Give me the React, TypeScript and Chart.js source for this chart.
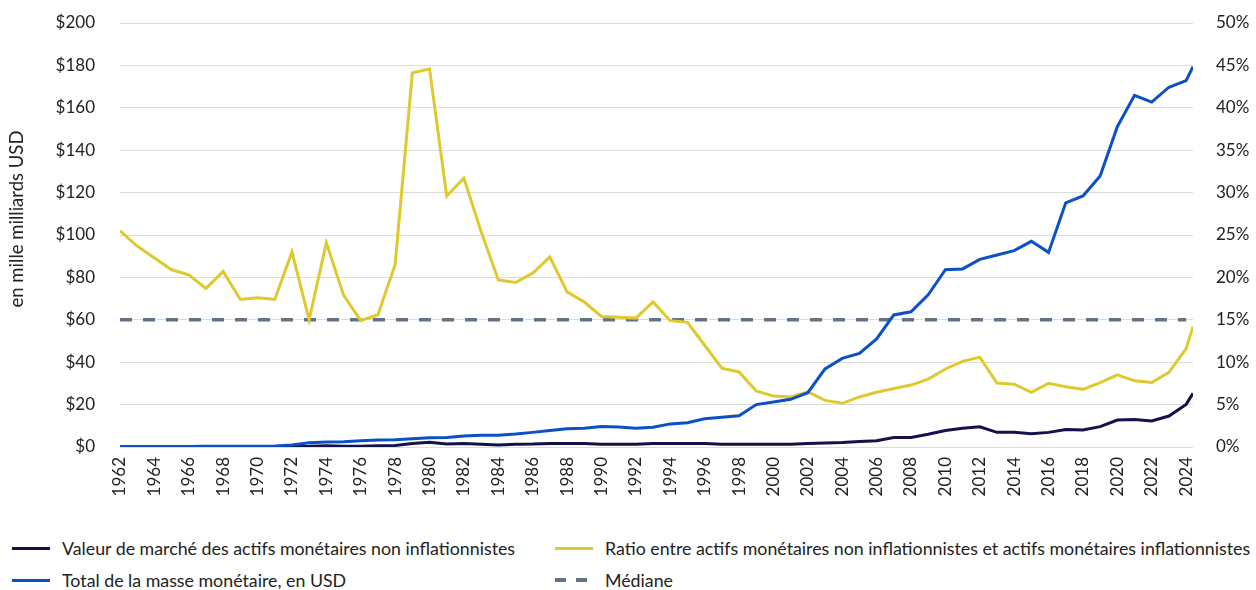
import React, { useEffect, useRef } from 'react';
import { Chart, registerables } from 'chart.js';

Chart.register(...registerables);

// ---- Data ----
const years = [
  1962, 1963, 1964, 1965, 1966, 1967, 1968, 1969, 1970, 1971,
  1972, 1973, 1974, 1975, 1976, 1977, 1978, 1979, 1980, 1981,
  1982, 1983, 1984, 1985, 1986, 1987, 1988, 1989, 1990, 1991,
  1992, 1993, 1994, 1995, 1996, 1997, 1998, 1999, 2000, 2001,
  2002, 2003, 2004, 2005, 2006, 2007, 2008, 2009, 2010, 2011,
  2012, 2013, 2014, 2015, 2016, 2017, 2018, 2019, 2020, 2021,
  2022, 2023, 2024, 2024.4,
];

// Valeur de marché des actifs monétaires non inflationnistes (mille milliards USD)
const marketValue = [
  0.1, 0.1, 0.1, 0.1, 0.1, 0.1, 0.1, 0.1, 0.1, 0.1,
  0.2, 0.3, 0.6, 0.4, 0.4, 0.6, 0.7, 1.7, 2.2, 1.4,
  1.7, 1.3, 0.9, 1.3, 1.4, 1.7, 1.7, 1.7, 1.3, 1.3,
  1.3, 1.6, 1.7, 1.7, 1.6, 1.3, 1.3, 1.3, 1.3, 1.3,
  1.6, 1.9, 2.1, 2.6, 3.0, 4.5, 4.5, 6.0, 7.8, 8.8,
  9.5, 6.9, 6.9, 6.2, 6.9, 8.2, 8.0, 9.6, 12.7, 13.0,
  12.3, 14.6, 20.1, 25.3,
];

// Ratio entre actifs monétaires non inflationnistes et inflationnistes (%)
const ratio = [
  25.5, 23.7, 22.3, 20.9, 20.3, 18.7, 20.7, 17.4, 17.6, 17.4,
  23.0, 15.0, 24.1, 17.9, 14.9, 15.6, 21.5, 44.1, 44.6, 29.6,
  31.7, 25.4, 19.7, 19.4, 20.5, 22.4, 18.3, 17.1, 15.4, 15.3,
  15.2, 17.1, 14.9, 14.7, 12.0, 9.3, 8.85, 6.6, 6.0, 5.9,
  6.5, 5.5, 5.15, 5.9, 6.45, 6.9, 7.3, 8.0, 9.2, 10.1,
  10.6, 7.55, 7.4, 6.45, 7.5, 7.1, 6.8, 7.6, 8.5, 7.8,
  7.6, 8.8, 11.6, 14.2,
];

// Total de la masse monétaire, en USD (mille milliards)
const moneySupply = [
  0.2, 0.2, 0.2, 0.2, 0.2, 0.4, 0.4, 0.4, 0.4, 0.5,
  0.9, 2.0, 2.4, 2.5, 3.0, 3.3, 3.4, 3.9, 4.4, 4.5,
  5.2, 5.5, 5.5, 6.1, 6.9, 7.8, 8.6, 8.9, 9.7, 9.4,
  8.9, 9.3, 10.9, 11.4, 13.3, 14.0, 14.7, 20.0, 21.2, 22.5,
  25.6, 36.8, 41.8, 44.1, 51.0, 62.3, 63.8, 71.8, 83.6, 84.0,
  88.5, 90.6, 92.6, 97.0, 91.8, 115.2, 118.4, 127.8, 151.1, 165.9,
  162.7, 169.7, 172.8, 179.4,
];

const medianYears = [1962, 2024];
const medianValues = [15, 15];

const xTickYears = [
  1962, 1964, 1966, 1968, 1970, 1972, 1974, 1976, 1978, 1980,
  1982, 1984, 1986, 1988, 1990, 1992, 1994, 1996, 1998, 2000,
  2002, 2004, 2006, 2008, 2010, 2012, 2014, 2016, 2018, 2020,
  2022, 2024,
];

const labels = {
  market: 'Valeur de marché des actifs monétaires non inflationnistes',
  ratio: 'Ratio entre actifs monétaires non inflationnistes et actifs monétaires inflationnistes',
  supply: 'Total de la masse monétaire, en USD',
  median: 'Médiane',
  yTitle: 'en mille milliards USD',
};

// ---- Styles ----
const NAVY = '#13124b';
const BLUE = '#0b50c5';
const YELLOW = '#dfc92e';
const SLATE = '#5f7489';
const TEXT = '#222222';
const FONT = 'Lato';

const pts = (xs: number[], ys: number[]) => xs.map((x, i) => ({ x, y: ys[i] }));

const yTitlePlugin = {
  id: 'yTitle',
  afterDraw(chart: any) {
    const c = chart.ctx;
    c.save();
    c.translate(17, 219);
    c.rotate(-Math.PI / 2);
    c.font = `18.5px ${FONT}`;
    c.fillStyle = TEXT;
    c.textAlign = 'center';
    c.textBaseline = 'middle';
    c.fillText(labels.yTitle, 0, 0);
    c.restore();
  },
};

function LegendItem(props: { left: number; top: number; color: string; dashed?: boolean; text: string }) {
  const { left, top, color, dashed, text } = props;
  return (
    <div style={{ position: 'absolute', left, top: top - 13, height: 26, display: 'flex', alignItems: 'center', whiteSpace: 'nowrap' }}>
      {dashed ? (
        <div style={{ width: 38, height: 4, position: 'relative', marginRight: 12 }}>
          <div style={{ position: 'absolute', left: 0, top: 0, width: 11, height: 4, background: color }} />
          <div style={{ position: 'absolute', left: 21, top: 0, width: 11, height: 4, background: color }} />
        </div>
      ) : (
        <div style={{ width: 38, height: 3, background: color, marginRight: 12 }} />
      )}
      <span style={{ fontFamily: FONT, fontSize: 17.8, color: TEXT }}>{text}</span>
    </div>
  );
}

export default function App() {
  const ref = useRef<HTMLCanvasElement>(null);

  useEffect(() => {
    document.body.style.margin = '0';
    const canvas = ref.current;
    if (!canvas) return;
    const tickFont = { family: FONT, size: 17 };
    const chart = new Chart(canvas, {
      type: 'line',
      data: {
        datasets: [
          {
            label: labels.supply,
            data: pts(years, moneySupply),
            yAxisID: 'y',
            borderColor: BLUE,
            borderWidth: 3,
            pointRadius: 0,
            tension: 0,
          },
          {
            label: labels.market,
            data: pts(years, marketValue),
            yAxisID: 'y',
            borderColor: NAVY,
            borderWidth: 3,
            pointRadius: 0,
            tension: 0,
          },
          {
            label: labels.ratio,
            data: pts(years, ratio),
            yAxisID: 'y1',
            borderColor: YELLOW,
            borderWidth: 3,
            pointRadius: 0,
            tension: 0,
          },
          {
            label: labels.median,
            data: pts(medianYears, medianValues),
            yAxisID: 'y1',
            borderColor: SLATE,
            borderWidth: 3.5,
            borderDash: [12, 11],
            pointRadius: 0,
            tension: 0,
          },
        ],
      },
      options: {
        animation: false,
        responsive: false,
        maintainAspectRatio: false,
        layout: { padding: { top: 23, left: 0, right: 0, bottom: 0 } },
        plugins: { legend: { display: false }, tooltip: { enabled: false } },
        scales: {
          x: {
            type: 'linear',
            min: 1962,
            max: 2024.4,
            afterBuildTicks: (s: any) => {
              s.ticks = xTickYears.map((v) => ({ value: v }));
            },
            afterFit: (s: any) => {
              s.height = 68;
            },
            ticks: {
              minRotation: 90,
              maxRotation: 90,
              autoSkip: false,
              padding: 10,
              font: tickFont,
              color: TEXT,
              callback: (v: any) => String(v),
            },
            grid: { display: false, drawTicks: false },
            border: { display: false },
          },
          y: {
            position: 'left',
            min: 0,
            max: 200,
            afterFit: (s: any) => {
              s.width = 120;
              s.paddingTop = 0;
              s.paddingBottom = 0;
            },
            ticks: {
              stepSize: 20,
              padding: 25,
              font: tickFont,
              color: TEXT,
              callback: (v: any) => '$' + v,
            },
            grid: { color: '#dcdcdc', lineWidth: 1, drawTicks: false },
            border: { display: false },
          },
          y1: {
            position: 'right',
            min: 0,
            max: 50,
            afterFit: (s: any) => {
              s.width = 63;
              s.paddingTop = 0;
              s.paddingBottom = 0;
            },
            ticks: {
              stepSize: 5,
              padding: 23,
              font: tickFont,
              color: TEXT,
              callback: (v: any) => v + '%',
            },
            grid: { display: false, drawTicks: false },
            border: { display: false },
          },
        },
      },
      plugins: [yTitlePlugin],
    } as any);
    return () => chart.destroy();
  }, []);

  return (
    <div style={{ position: 'relative', width: 1256, height: 590, background: '#fff', overflow: 'hidden' }}>
      <canvas ref={ref} width={1256} height={515} style={{ position: 'absolute', left: 0, top: 0, width: 1256, height: 515 }} />
      <LegendItem left={12} top={548} color={NAVY} text={labels.market} />
      <LegendItem left={555} top={548} color={YELLOW} text={labels.ratio} />
      <LegendItem left={12} top={580} color={BLUE} text={labels.supply} />
      <LegendItem left={555} top={580} color={SLATE} dashed text={labels.median} />
    </div>
  );
}
